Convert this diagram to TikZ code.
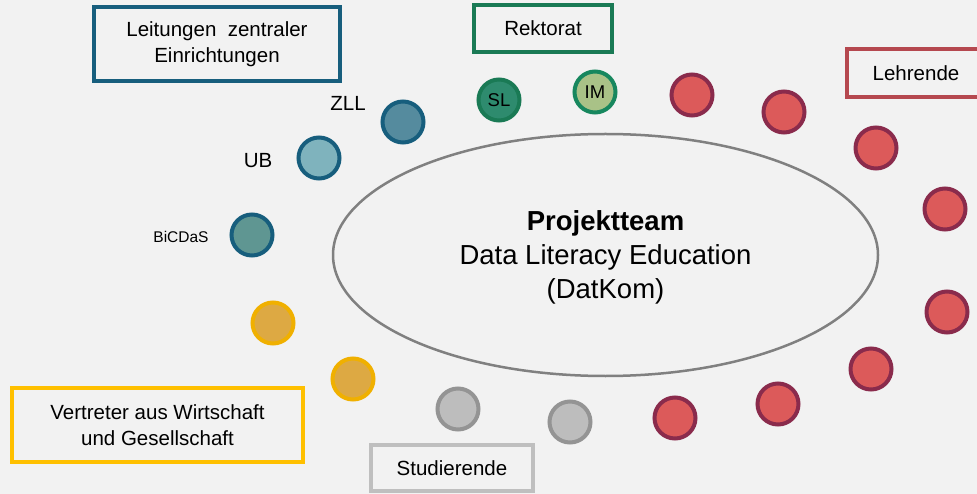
\documentclass[tikz,border=0pt]{standalone}
\usepackage{fontspec}
\setmainfont{Liberation Sans}
\usetikzlibrary{shapes.geometric}
\definecolor{bg}{HTML}{F2F2F2}
\definecolor{blueB}{HTML}{175E7D}
\definecolor{zllF}{HTML}{558B9E}
\definecolor{ubF}{HTML}{7FB3BD}
\definecolor{bicF}{HTML}{5F9692}
\definecolor{greenB}{HTML}{1A7A55}
\definecolor{slF}{HTML}{2E8B6E}
\definecolor{imB}{HTML}{17875E}
\definecolor{imF}{HTML}{A9C287}
\definecolor{redB}{HTML}{8A2B4C}
\definecolor{redF}{HTML}{DC5A5A}
\definecolor{lehrB}{HTML}{B5484F}
\definecolor{yelB}{HTML}{F0B000}
\definecolor{yelF}{HTML}{DDA943}
\definecolor{vertB}{HTML}{FFC000}
\definecolor{greyB}{HTML}{949494}
\definecolor{greyF}{HTML}{BDBDBD}
\definecolor{studB}{HTML}{BFBFBF}
\definecolor{ellB}{HTML}{808080}
\tikzset{
  dot/.style={circle, minimum size=41pt, inner sep=0pt, line width=4pt, draw=#1},
  catbox/.style={rectangle, draw=#1, line width=3.5pt, fill=bg, align=center, inner sep=0pt,
    font=\fontsize{20.5}{26}\selectfont},
  lab/.style={font=\fontsize{20.5}{24}\selectfont, inner sep=0pt},
}
\begin{document}
\begin{tikzpicture}[x=1pt,y=-1pt]
\fill[bg] (0,0) rectangle (977,494);
\useasboundingbox (0,0) rectangle (977,494);
\clip (0,0) rectangle (977,494);

% central ellipse
\node[ellipse, draw=ellB, line width=2.5pt, minimum width=545pt, minimum height=242pt, inner sep=0pt] (team) at (605.5,255) {};
\node[align=center, inner sep=0pt, font=\fontsize{27.5}{34}\selectfont] (teamtxt) at (605.5,257)
  {\textbf{Projektteam}\\Data Literacy Education\\(DatKom)};

% category boxes
\node[catbox=blueB, minimum width=246pt, minimum height=74pt] (leit) at (217,44) {Leitungen\ \ zentraler\\Einrichtungen};
\node[catbox=greenB, minimum width=138pt, minimum height=47pt] (rek) at (543,28.5) {Rektorat};
\node[catbox=lehrB, minimum width=138pt, minimum height=48pt] (lehr) at (916,73) {Lehrende};
\node[catbox=vertB, minimum width=291pt, minimum height=74pt, line width=4pt] (vert) at (157.5,425) {Vertreter aus Wirtschaft\\und Gesellschaft};
\node[catbox=studB, minimum width=162pt, minimum height=46pt, line width=4pt] (stud) at (452,468) {Studierende};

% blue circles
\node[dot=blueB, fill=zllF] (zll) at (403,122) {};
\node[dot=blueB, fill=ubF] (ub) at (319,158) {};
\node[dot=blueB, fill=bicF] (bic) at (252,235) {};
\node[lab] (zlltxt) at (348,103) {ZLL};
\node[lab] (ubtxt) at (258,161) {UB};
\node[font=\fontsize{15.5}{18}\selectfont, inner sep=0pt] (bictxt) at (181,237) {BiCDaS};

% green circles
\node[dot=greenB, fill=slF, font=\fontsize{18.5}{22}\selectfont] (sl) at (499,100) {SL};
\node[dot=imB, fill=imF, font=\fontsize{18.5}{22}\selectfont] (im) at (595,92) {IM};

% red circles
\node[dot=redB, fill=redF] (r1) at (692,95) {};
\node[dot=redB, fill=redF] (r2) at (784,112) {};
\node[dot=redB, fill=redF] (r3) at (876,148) {};
\node[dot=redB, fill=redF] (r4) at (945,209) {};
\node[dot=redB, fill=redF] (r5) at (947,312) {};
\node[dot=redB, fill=redF] (r6) at (871,369) {};
\node[dot=redB, fill=redF] (r7) at (778,404) {};
\node[dot=redB, fill=redF] (r8) at (675,418) {};

% grey circles
\node[dot=greyB, fill=greyF] (g1) at (458,409) {};
\node[dot=greyB, fill=greyF] (g2) at (570,422) {};

% yellow circles
\node[dot=yelB, fill=yelF] (y1) at (273,323) {};
\node[dot=yelB, fill=yelF] (y2) at (353,379) {};
\end{tikzpicture}
\end{document}
